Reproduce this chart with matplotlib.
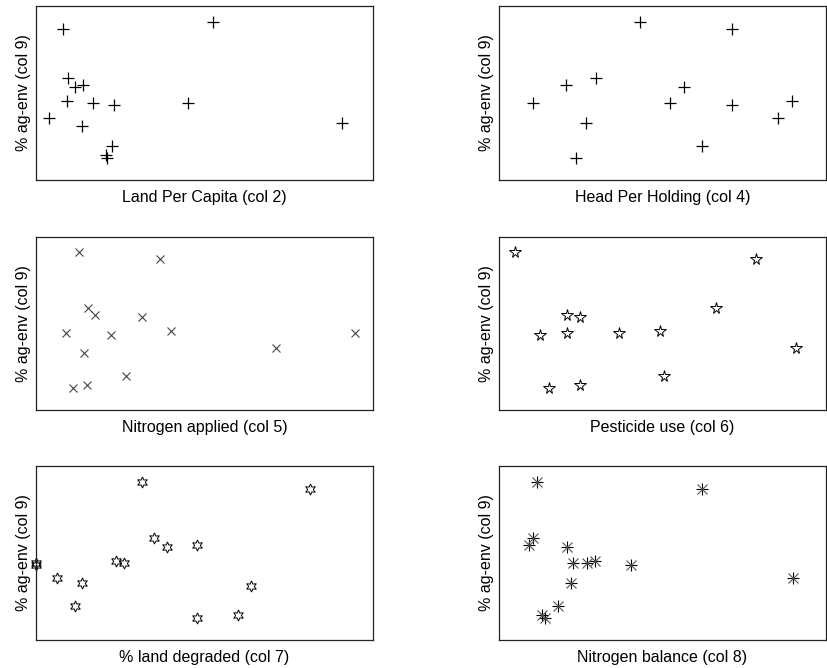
import numpy as np
import matplotlib
matplotlib.use('Agg')
import matplotlib.pyplot as plt

nan = np.nan

# % ag-env (col 9), one value per country, shared by every panel
ag_env = [158, 151, 102, 95, 93, 79, 77, 77, 75, 62, 57, 54, 34, 25, 22]

# x values per panel (no tick scale given)
land_per_capita = [177, 27, 32, 47, 39, 31, 57, 152, 78, 13, 306, 46, 76, 70, 71]
head_per_holding = [141, 233, 97, 67, 185, 293, 34, 171, 233, 279, 87, nan, 203, nan, 77]
nitrogen_applied = [43, 124, 52, 59, 106, 135, 30, 319, 75, 240, 48, nan, 90, 51, 37]
pesticide_use = [16, 257, 217, 68, 81, 161, 68, 120, 41, 297, nan, nan, 165, 81, 50]
land_degraded = [106, 274, 118, 161, 131, 80, 88, 0, 0, 21, 46, 215, 39, 202, 161]
nitrogen_balance = [38, 203, 34, 30, 68, 96, 74, 88, 132, 294, 72, nan, 59, 43, 46]

xlabels = ['Land Per Capita (col 2)', 'Head Per Holding (col 4)',
           'Nitrogen applied (col 5)', 'Pesticide use (col 6)',
           '% land degraded (col 7)', 'Nitrogen balance (col 8)']
xdata = [land_per_capita, head_per_holding, nitrogen_applied,
         pesticide_use, land_degraded, nitrogen_balance]

plt.rcParams['font.family'] = ['Liberation Sans', 'DejaVu Sans']

W, H = 827, 668
fig = plt.figure(figsize=(W / 100, H / 100), dpi=100)

# panel boxes in pixels: left, right / top, bottom
cols = [(36, 373), (499, 826)]
rows = [(6, 180), (237, 410), (466, 640)]

# marker styles per panel
styles = [
    [dict(marker='+', ms=9, mew=0.9)],
    [dict(marker='+', ms=9, mew=0.9)],
    [dict(marker='x', ms=6, mew=0.8, color='#444444')],
    [dict(marker='*', ms=8.5, mew=0.7, mfc='none')],
    [dict(marker=(6, 1, 0), ms=8, mew=0.7, mfc='none')],
    [dict(marker='+', ms=9, mew=0.8), dict(marker='x', ms=7, mew=0.8, color='#555555')],
]

for i in range(6):
    r, c = divmod(i, 2)
    x0, x1 = cols[c]
    top, bot = rows[r]
    ax = fig.add_axes([x0 / W, 1 - bot / H, (x1 - x0) / W, (bot - top) / H])
    for st in styles[i]:
        kw = dict(color='black', ls='none', clip_on=False)
        kw.update(st)
        ax.plot(xdata[i], ag_env, **kw)
    ax.set_xlim(0, x1 - x0)
    ax.set_ylim(0, bot - top)
    ax.set_xticks([])
    ax.set_yticks([])
    for s in ax.spines.values():
        s.set_linewidth(0.9)
        s.set_color('#222222')
    ax.set_xlabel(xlabels[i], fontsize=11.5, labelpad=7.5)
    ax.set_ylabel('% ag-env (col 9)', fontsize=11.5, labelpad=3.5)

fig.savefig('out.png', dpi=100)
